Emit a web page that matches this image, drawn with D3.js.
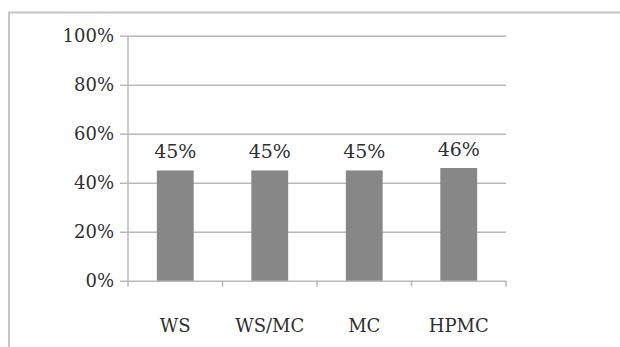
<!DOCTYPE html>
<html>
<head>
<meta charset="utf-8">
<script src="https://cdn.jsdelivr.net/npm/d3@7"></script>
<style>
  html, body { margin: 0; padding: 0; background: #ffffff; overflow: hidden; }
  svg { display: block; }
</style>
</head>
<body>
<svg id="chart" width="620" height="347"></svg>
<script>
// Share of each formulation
const categories = ["WS", "WS/MC", "MC", "HPMC"];
const values = [0.45, 0.45, 0.45, 0.46];
const yTicks = [0, 0.2, 0.4, 0.6, 0.8, 1.0];

const svg = d3.select("#chart");
const textColor = "#2f2f2f";
const gridColor = "#b9b9b9";
const barColor = "#878787";
const fontFamily = "'DejaVu Serif', serif";

// Outer chart frame: only its top and left edges fall inside the view
svg.append("path")
  .attr("d", "M9,347 V12.5 H620")
  .attr("fill", "none")
  .attr("stroke", "#c4c4c4")
  .attr("stroke-width", 2);

const plot = { left: 128, right: 506, top: 35.7, bottom: 280.7 };

const x = d3.scaleBand()
  .domain(categories)
  .range([plot.left, plot.right])
  .paddingInner(0.61)
  .paddingOuter(0.305);

const y = d3.scaleLinear()
  .domain([0, 1])
  .range([plot.bottom, plot.top]);

// Horizontal gridlines with left tick marks and percentage labels
const yAxis = d3.axisLeft(y)
  .tickValues(yTicks)
  .tickFormat(d3.format(".0%"))
  .tickSize(-(plot.right - plot.left))
  .tickPadding(14);

const gy = svg.append("g")
  .attr("transform", `translate(${plot.left},0)`)
  .call(yAxis);
gy.select(".domain").remove();
gy.selectAll(".tick line")
  .attr("x1", -8)
  .attr("stroke", gridColor)
  .attr("stroke-width", 1.5);
gy.selectAll(".tick text")
  .attr("fill", textColor)
  .attr("font-family", fontFamily)
  .attr("font-size", "18px");

// Vertical axis line
svg.append("line")
  .attr("x1", plot.left).attr("x2", plot.left)
  .attr("y1", plot.top).attr("y2", plot.bottom)
  .attr("stroke", gridColor)
  .attr("stroke-width", 1.5);

// Category tick marks at band boundaries
const boundaries = categories.map(c => x(c) - x.step() * x.paddingInner() / 2)
  .concat([plot.right]);
svg.append("g")
  .selectAll("line")
  .data(boundaries)
  .join("line")
  .attr("x1", d => d).attr("x2", d => d)
  .attr("y1", plot.bottom).attr("y2", plot.bottom + 6)
  .attr("stroke", gridColor)
  .attr("stroke-width", 1.5);

// Bars
svg.append("g")
  .selectAll("rect")
  .data(values)
  .join("rect")
  .attr("x", (d, i) => x(categories[i]))
  .attr("y", d => y(d))
  .attr("width", x.bandwidth())
  .attr("height", d => y(0) - y(d))
  .attr("fill", barColor);

// Value labels above bars
svg.append("g")
  .selectAll("text")
  .data(values)
  .join("text")
  .attr("x", (d, i) => x(categories[i]) + x.bandwidth() / 2)
  .attr("y", d => y(d) - 12)
  .attr("text-anchor", "middle")
  .attr("fill", textColor)
  .attr("font-family", fontFamily)
  .attr("font-size", "19px")
  .text(d => d3.format(".0%")(d));

// Category labels
svg.append("g")
  .selectAll("text")
  .data(categories)
  .join("text")
  .attr("x", d => x(d) + x.bandwidth() / 2)
  .attr("y", 332)
  .attr("text-anchor", "middle")
  .attr("fill", textColor)
  .attr("font-family", fontFamily)
  .attr("font-size", "18px")
  .text(d => d);
</script>
</body>
</html>
